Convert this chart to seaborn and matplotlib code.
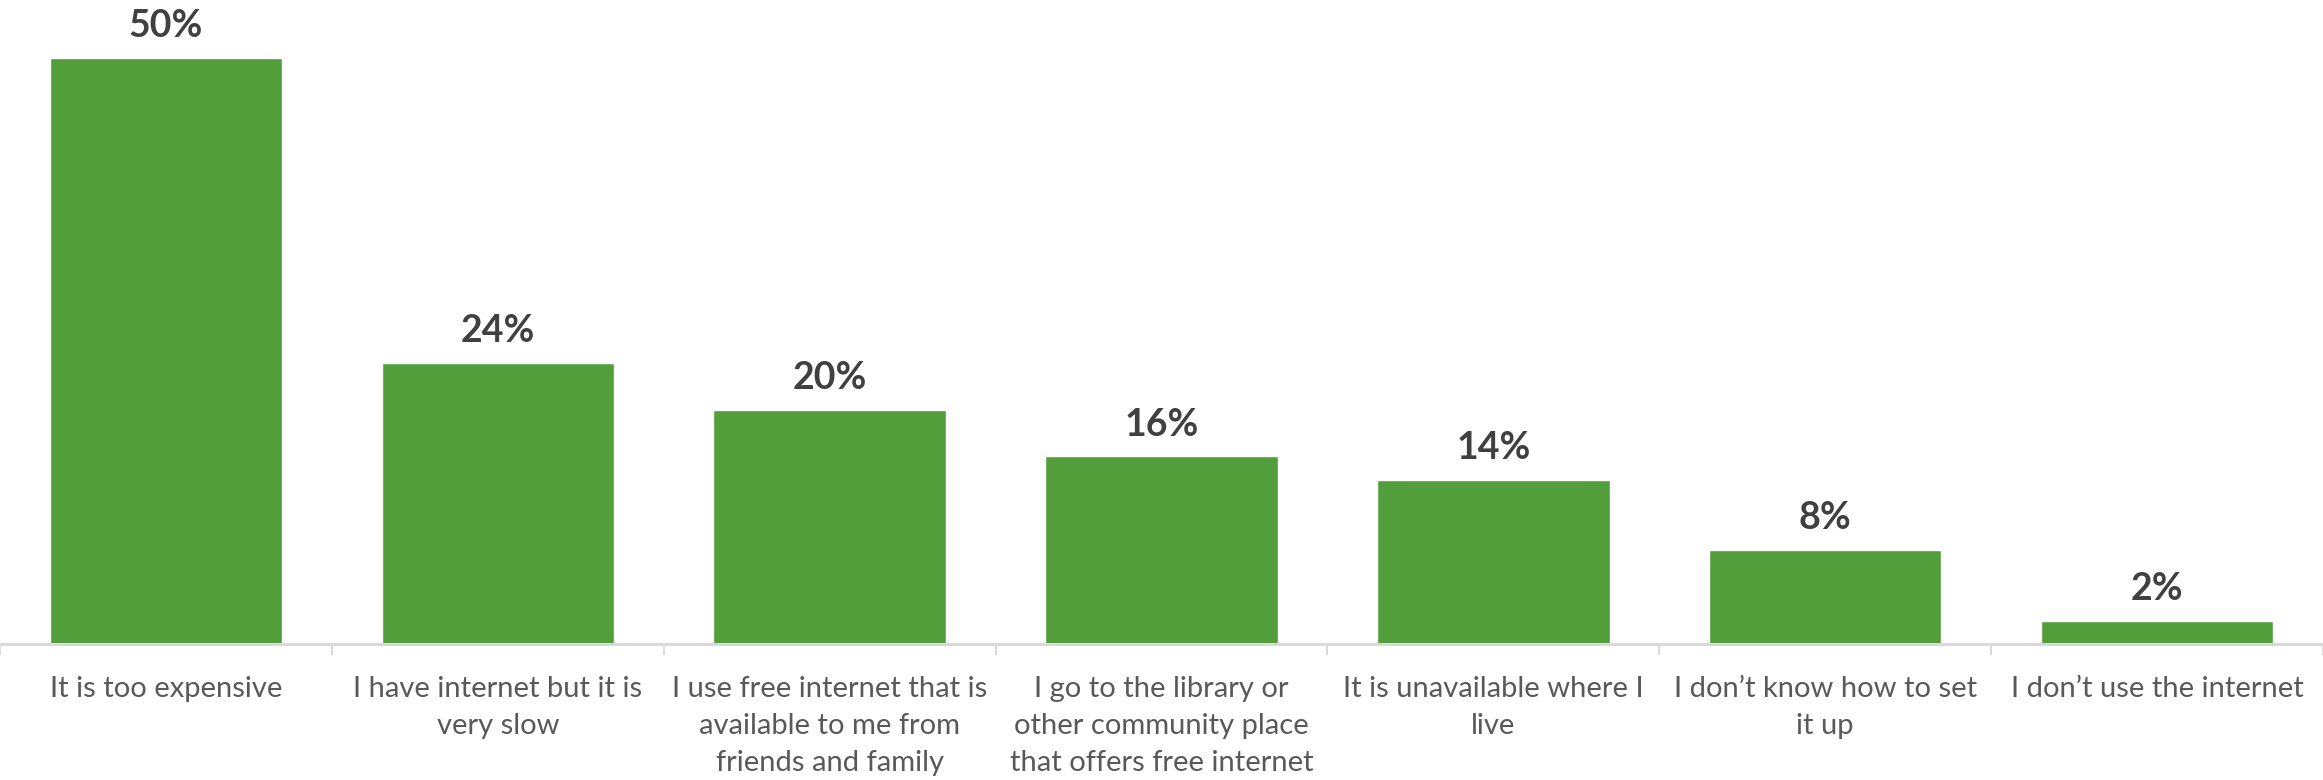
import matplotlib
matplotlib.use("Agg")
import matplotlib.pyplot as plt
import seaborn as sns
import pandas as pd

categories = [
    "It is too expensive",
    "I have internet but it is\nvery slow",
    "I use free internet that is\navailable to me from\nfriends and family",
    "I go to the library or\nother community place\nthat offers free internet",
    "It is unavailable where I\nlive",
    "I don\u2019t know how to set\nit up",
    "I don\u2019t use the internet",
]
values = [0.50, 0.24, 0.20, 0.16, 0.14, 0.08, 0.02]
value_labels = ["50%", "24%", "20%", "16%", "14%", "8%", "2%"]

sns.set_theme(style="white")
plt.rcParams["font.family"] = ["Lato", "DejaVu Sans"]

df = pd.DataFrame({"reason": categories, "share": values})

W, H, DPI = 2323, 780, 100
fig = plt.figure(figsize=(W / DPI, H / DPI), dpi=DPI)
ax_bottom = (H - 644) / H
ax = fig.add_axes([0, ax_bottom, 1, 1 - ax_bottom])

sns.barplot(data=df, x="reason", y="share", color="#529E3A", saturation=1,
            width=0.70, ax=ax)

ax.set_xlim(-0.5, len(categories) - 0.5)
ax.set_ylim(0, 0.5 * 644 / 586)

for i, (v, lab) in enumerate(zip(values, value_labels)):
    ax.annotate(lab, (i, v), xytext=(0, 23), textcoords="offset points",
                ha="center", va="center", fontsize=27, fontweight="bold",
                color="#404040", annotation_clip=False)

for side in ("top", "right", "left"):
    ax.spines[side].set_visible(False)
ax.spines["bottom"].set_color("#D9D9D9")
ax.spines["bottom"].set_linewidth(2.2)

ax.set_yticks([])
ax.set_xlabel("")
ax.set_ylabel("")
ax.set_xticks(range(len(categories)))
ax.set_xticklabels(categories, fontsize=21, color="#595959", linespacing=1.52,
                   va="top")
ax.tick_params(axis="x", which="major", length=0, pad=23)
ax.set_xticks([i - 0.5 for i in range(len(categories) + 1)], minor=True)
ax.tick_params(axis="x", which="minor", length=8, width=1.5, color="#D9D9D9",
               direction="out", bottom=True)

fig.savefig("out.png", dpi=DPI)
